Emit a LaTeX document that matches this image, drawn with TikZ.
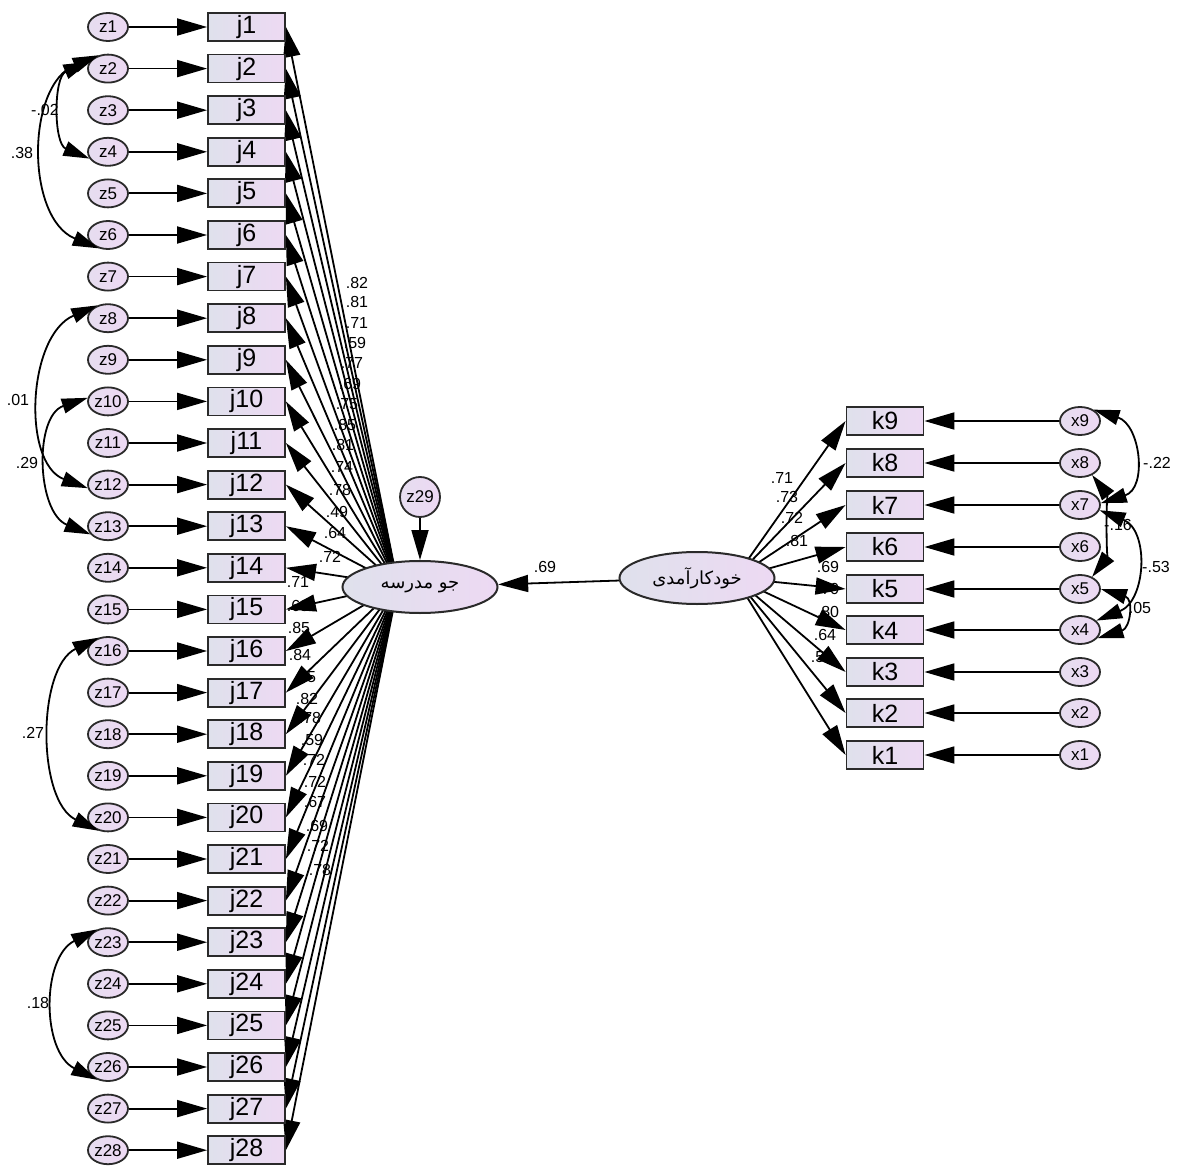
\documentclass[tikz,border=0pt]{standalone}
\usepackage{fontspec}
\setmainfont{Liberation Sans}
\newfontfamily\arabicfont[Script=Arabic]{DejaVu Sans}
\TeXXeTstate=1
\usetikzlibrary{arrows.meta,shapes.geometric}

\definecolor{fillL}{HTML}{DFE1EC}
\definecolor{fillR}{HTML}{EDD9F3}
\definecolor{edgec}{HTML}{2A2A2A}

\pgfdeclarelayer{paper}
\pgfdeclarelayer{bg}
\pgfsetlayers{paper,bg,main}

\tikzset{
  obs/.style={draw=edgec, line width=1.8pt, rectangle, minimum width=77pt,
    minimum height=28pt, inner sep=0pt, left color=fillL, right color=fillR,
    font=\fontsize{25}{25}\selectfont},
  err/.style={draw=edgec, line width=1.8pt, ellipse, minimum width=40pt,
    minimum height=28pt, inner sep=0pt, left color=fillL!50!fillR, right color=fillR,
    font=\fontsize{17}{17}\selectfont},
  latent/.style={draw=edgec, line width=2pt, ellipse, minimum width=155pt,
    minimum height=52pt, inner sep=0pt, left color=fillL, right color=fillR,
    font=\arabicfont\fontsize{18}{18}\selectfont},
  arr/.style={draw=black, line width=1.8pt, -{Triangle[length=30pt,width=17pt]}},
  cov/.style={draw=black, line width=1.8pt,
    {Triangle[length=26pt,width=15pt]}-{Triangle[length=26pt,width=15pt]}},
  num/.style={inner sep=0pt, font=\fontsize{16}{16}\selectfont},
}

\begin{document}
\begin{tikzpicture}[x=1pt,y=1pt]
\begin{pgfonlayer}{paper}
\fill[white] (0,0) rectangle (1178,-1166);
\end{pgfonlayer}
\useasboundingbox (0,0) rectangle (1178,-1166);

% latent variables and disturbance
\node[latent] (L) at (420,-587) {\beginR جو مدرسه\endR};
\node[latent] (R) at (697,-578) {\beginR خودکارآمدی\endR};
\coordinate (Lfan) at (398,-585);
\coordinate (Rfan) at (735,-578);
\node[err, minimum width=40pt, minimum height=40pt] (z29) at (420,-497) {z29};
\draw[arr] (z29) -- (L);
\draw[arr] (R) -- (L);
\node[num] (l69) at (545,-567) {.69};

% school climate indicators j1..j28 with their errors
\foreach \i in {1,...,28} {
  \pgfmathsetmacro\yy{-(27+(\i-1)*41.6)}
  \node[err] (z\i) at (108,\yy) {z\i};
  \node[obs] (j\i) at (246.5,\yy) {j\i};
  \draw[arr] (z\i) -- (j\i);
}

% self-efficacy indicators k1..k9 with their errors
\foreach \i/\yy in {9/421, 8/463, 7/505, 6/547, 5/589, 4/630, 3/672, 2/713, 1/755} {
  \node[obs] (k\i) at (885,-\yy) {k\i};
  \node[err] (x\i) at (1080,-\yy) {x\i};
  \draw[arr] (x\i) -- (k\i);
}

% factor loadings (the fans start behind the ellipses)
\begin{pgfonlayer}{bg}
\foreach \i in {1,...,28} {
  \draw[arr] (Lfan) -- (j\i.east);
}
\foreach \i in {1,...,9} {
  \draw[arr] (Rfan) -- (k\i.west);
}
\end{pgfonlayer}
\foreach \i/\v/\lx/\ly in {
  1/.82/357/283, 2/.81/357/302, 3/.71/357/323, 4/.59/355/343,
  5/.77/352/363, 6/.69/350/384, 7/.75/347/404, 8/.85/345/425,
  9/.81/343/445, 10/.74/342/467, 11/.78/340/490, 12/.49/337/512,
  13/.64/335/533, 14/.72/330/557, 15/.71/298/582, 16/.68/298/606,
  17/.85/299/628, 18/.84/300/655, 19/.75/305/677, 20/.82/307/699,
  21/.78/310/718, 22/.59/312/740, 23/.72/314/760, 24/.72/315/782,
  25/.67/315/802, 26/.69/317/826, 27/.72/318/846, 28/.78/320/870} {
  \node[num] (lj\i) at (\lx,-\ly) {\v};
}
\foreach \v/\lx/\ly [count=\n] in {
  .71/782/478, .73/787/497, .72/792/518, .81/797/541, .69/828/567,
  .70/828/589, .80/828/612, .64/825/635, .58/822/657} {
  \node[num] (lk\n) at (\lx,-\ly) {\v};
}

% error covariances, left column
\draw[cov] (z2.160) .. controls +(-36,-15) and +(-36,15) .. (z4.200);
\node[num] (c1) at (45,-110) {-.02};
\draw[cov] (z2.125) .. controls +(-73,-30) and +(-73,30) .. (z6.235);
\node[num] (c2) at (22,-153) {.38};
\draw[cov] (z8.130) .. controls +(-70,-30) and +(-66,25) .. (z12.190);
\node[num] (c3) at (18,-400) {.01};
\draw[cov] (z10.170) .. controls +(-54,-18) and +(-54,22) .. (z13.205);
\node[num] (c4) at (27,-463) {.29};
\draw[cov] (z16.125) .. controls +(-62,-30) and +(-62,30) .. (z20.235);
\node[num] (c5) at (33,-733) {.27};
\draw[cov] (z23.130) .. controls +(-56,-28) and +(-56,28) .. (z26.230);
\node[num] (c6) at (38,-1003) {.18};

% error covariances, right column
\draw[cov] (x9.40) .. controls +(47,-15) and +(47,15) .. (x7.5);
\node[num] (c7) at (1157,-463) {-.22};
\draw[cov] (x8.-45) .. controls +(14,-18) and +(14,18) .. (x5.45);
\node[num] (c8) at (1118,-525) {-.16};
\draw[cov] (x7.-15) .. controls +(50,-20) and +(50,20) .. (x4.30);
\node[num] (c9) at (1156,-567) {-.53};
\draw[cov] (x5.0) .. controls +(33,-10) and +(33,10) .. (x4.-25);
\node[num] (c10) at (1140,-608) {.05};
\end{tikzpicture}
\end{document}
